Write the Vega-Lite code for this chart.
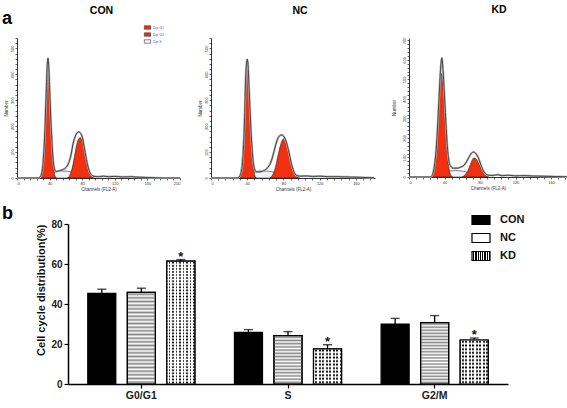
{
 "$schema": "https://vega.github.io/schema/vega-lite/v6.json",
 "padding": {"left": 2, "top": 5, "right": 0, "bottom": 0},
 "title": {"text": "a", "anchor": "start", "fontSize": 18, "fontWeight": "bold", "baseline": "alphabetic", "offset": -37, "color": "#000"},
 "config": {
  "font": "Liberation Sans",
  "view": {"stroke": null},
  "axis": {"labelFontSize": 4, "titleFontSize": 4.5, "tickSize": 2, "labelPadding": 1, "titlePadding": 1.5, "grid": false, "domainColor": "#000", "tickColor": "#000", "labelColor": "#333", "titleColor": "#333", "titleFontWeight": "normal", "domainWidth": 0.8, "tickWidth": 0.6},
  "title": {"color": "#000"}
 },
 "datasets": {
  "con": [
   {"comp": "Dip S", "x": 34, "y": 0}, {"comp": "Dip S", "x": 40, "y": 12}, {"comp": "Dip S", "x": 46, "y": 22}, {"comp": "Dip S", "x": 54, "y": 27}, {"comp": "Dip S", "x": 62, "y": 26}, {"comp": "Dip S", "x": 70, "y": 20}, {"comp": "Dip S", "x": 78, "y": 11}, {"comp": "Dip S", "x": 86, "y": 0},
   {"comp": "Dip G1", "x": 28, "y": 0}, {"comp": "Dip G1", "x": 30, "y": 12}, {"comp": "Dip G1", "x": 32, "y": 55}, {"comp": "Dip G1", "x": 34, "y": 160}, {"comp": "Dip G1", "x": 36, "y": 330}, {"comp": "Dip G1", "x": 37, "y": 410}, {"comp": "Dip G1", "x": 38, "y": 446}, {"comp": "Dip G1", "x": 39, "y": 410}, {"comp": "Dip G1", "x": 40, "y": 330}, {"comp": "Dip G1", "x": 42, "y": 180}, {"comp": "Dip G1", "x": 44, "y": 70}, {"comp": "Dip G1", "x": 46, "y": 15}, {"comp": "Dip G1", "x": 48, "y": 0},
   {"comp": "Dip G2", "x": 62, "y": 0}, {"comp": "Dip G2", "x": 65, "y": 12}, {"comp": "Dip G2", "x": 68, "y": 42}, {"comp": "Dip G2", "x": 71, "y": 92}, {"comp": "Dip G2", "x": 74, "y": 138}, {"comp": "Dip G2", "x": 76, "y": 152}, {"comp": "Dip G2", "x": 78, "y": 155}, {"comp": "Dip G2", "x": 80, "y": 142}, {"comp": "Dip G2", "x": 83, "y": 98}, {"comp": "Dip G2", "x": 86, "y": 50}, {"comp": "Dip G2", "x": 89, "y": 18}, {"comp": "Dip G2", "x": 92, "y": 4}, {"comp": "Dip G2", "x": 95, "y": 0},
   {"comp": "Total", "x": 0, "y": 0}, {"comp": "Total", "x": 26, "y": 0}, {"comp": "Total", "x": 28, "y": 3}, {"comp": "Total", "x": 30, "y": 15}, {"comp": "Total", "x": 32, "y": 60}, {"comp": "Total", "x": 34, "y": 170}, {"comp": "Total", "x": 36, "y": 345}, {"comp": "Total", "x": 37, "y": 430}, {"comp": "Total", "x": 38, "y": 462}, {"comp": "Total", "x": 39, "y": 430}, {"comp": "Total", "x": 40, "y": 350}, {"comp": "Total", "x": 42, "y": 195}, {"comp": "Total", "x": 44, "y": 85}, {"comp": "Total", "x": 46, "y": 35}, {"comp": "Total", "x": 48, "y": 25}, {"comp": "Total", "x": 52, "y": 28}, {"comp": "Total", "x": 56, "y": 32}, {"comp": "Total", "x": 60, "y": 40}, {"comp": "Total", "x": 63, "y": 55}, {"comp": "Total", "x": 66, "y": 85}, {"comp": "Total", "x": 69, "y": 135}, {"comp": "Total", "x": 72, "y": 165}, {"comp": "Total", "x": 74, "y": 175}, {"comp": "Total", "x": 76, "y": 178}, {"comp": "Total", "x": 78, "y": 172}, {"comp": "Total", "x": 80, "y": 160}, {"comp": "Total", "x": 83, "y": 110}, {"comp": "Total", "x": 86, "y": 60}, {"comp": "Total", "x": 89, "y": 25}, {"comp": "Total", "x": 92, "y": 10}, {"comp": "Total", "x": 95, "y": 6}, {"comp": "Total", "x": 100, "y": 5}, {"comp": "Total", "x": 106, "y": 7}, {"comp": "Total", "x": 112, "y": 5}, {"comp": "Total", "x": 120, "y": 6}, {"comp": "Total", "x": 130, "y": 4}, {"comp": "Total", "x": 140, "y": 5}, {"comp": "Total", "x": 150, "y": 3}, {"comp": "Total", "x": 160, "y": 2}, {"comp": "Total", "x": 170, "y": 1}, {"comp": "Total", "x": 180, "y": 0}, {"comp": "Total", "x": 200, "y": 0}
  ],
  "nc": [
   {"comp": "Dip S", "x": 36, "y": 0}, {"comp": "Dip S", "x": 42, "y": 12}, {"comp": "Dip S", "x": 48, "y": 22}, {"comp": "Dip S", "x": 56, "y": 27}, {"comp": "Dip S", "x": 64, "y": 26}, {"comp": "Dip S", "x": 72, "y": 20}, {"comp": "Dip S", "x": 80, "y": 11}, {"comp": "Dip S", "x": 88, "y": 0},
   {"comp": "Dip G1", "x": 30, "y": 0}, {"comp": "Dip G1", "x": 32, "y": 12}, {"comp": "Dip G1", "x": 34, "y": 55}, {"comp": "Dip G1", "x": 36, "y": 160}, {"comp": "Dip G1", "x": 38, "y": 340}, {"comp": "Dip G1", "x": 39, "y": 420}, {"comp": "Dip G1", "x": 40, "y": 446}, {"comp": "Dip G1", "x": 41, "y": 415}, {"comp": "Dip G1", "x": 42, "y": 340}, {"comp": "Dip G1", "x": 44, "y": 185}, {"comp": "Dip G1", "x": 46, "y": 72}, {"comp": "Dip G1", "x": 48, "y": 15}, {"comp": "Dip G1", "x": 50, "y": 0},
   {"comp": "Dip G2", "x": 65, "y": 0}, {"comp": "Dip G2", "x": 68, "y": 12}, {"comp": "Dip G2", "x": 71, "y": 40}, {"comp": "Dip G2", "x": 74, "y": 88}, {"comp": "Dip G2", "x": 77, "y": 130}, {"comp": "Dip G2", "x": 79, "y": 148}, {"comp": "Dip G2", "x": 81, "y": 152}, {"comp": "Dip G2", "x": 83, "y": 140}, {"comp": "Dip G2", "x": 86, "y": 98}, {"comp": "Dip G2", "x": 89, "y": 50}, {"comp": "Dip G2", "x": 92, "y": 18}, {"comp": "Dip G2", "x": 95, "y": 4}, {"comp": "Dip G2", "x": 98, "y": 0},
   {"comp": "Total", "x": 0, "y": 0}, {"comp": "Total", "x": 29, "y": 0}, {"comp": "Total", "x": 31, "y": 4}, {"comp": "Total", "x": 33, "y": 18}, {"comp": "Total", "x": 35, "y": 70}, {"comp": "Total", "x": 37, "y": 220}, {"comp": "Total", "x": 38, "y": 360}, {"comp": "Total", "x": 39, "y": 435}, {"comp": "Total", "x": 40, "y": 458}, {"comp": "Total", "x": 41, "y": 430}, {"comp": "Total", "x": 42, "y": 350}, {"comp": "Total", "x": 44, "y": 195}, {"comp": "Total", "x": 46, "y": 85}, {"comp": "Total", "x": 48, "y": 35}, {"comp": "Total", "x": 50, "y": 24}, {"comp": "Total", "x": 54, "y": 24}, {"comp": "Total", "x": 58, "y": 28}, {"comp": "Total", "x": 62, "y": 38}, {"comp": "Total", "x": 66, "y": 60}, {"comp": "Total", "x": 69, "y": 95}, {"comp": "Total", "x": 72, "y": 135}, {"comp": "Total", "x": 75, "y": 160}, {"comp": "Total", "x": 78, "y": 166}, {"comp": "Total", "x": 80, "y": 162}, {"comp": "Total", "x": 83, "y": 140}, {"comp": "Total", "x": 86, "y": 100}, {"comp": "Total", "x": 89, "y": 52}, {"comp": "Total", "x": 92, "y": 20}, {"comp": "Total", "x": 95, "y": 9}, {"comp": "Total", "x": 99, "y": 7}, {"comp": "Total", "x": 105, "y": 8}, {"comp": "Total", "x": 112, "y": 6}, {"comp": "Total", "x": 120, "y": 7}, {"comp": "Total", "x": 130, "y": 5}, {"comp": "Total", "x": 140, "y": 5}, {"comp": "Total", "x": 150, "y": 4}, {"comp": "Total", "x": 160, "y": 3}, {"comp": "Total", "x": 170, "y": 2}, {"comp": "Total", "x": 180, "y": 1}
  ],
  "kd": [
   {"comp": "Dip S", "x": 32, "y": 0}, {"comp": "Dip S", "x": 38, "y": 18}, {"comp": "Dip S", "x": 45, "y": 30}, {"comp": "Dip S", "x": 52, "y": 33}, {"comp": "Dip S", "x": 60, "y": 30}, {"comp": "Dip S", "x": 68, "y": 22}, {"comp": "Dip S", "x": 76, "y": 10}, {"comp": "Dip S", "x": 84, "y": 0},
   {"comp": "Dip G1", "x": 25, "y": 0}, {"comp": "Dip G1", "x": 27, "y": 15}, {"comp": "Dip G1", "x": 29, "y": 60}, {"comp": "Dip G1", "x": 31, "y": 160}, {"comp": "Dip G1", "x": 33, "y": 310}, {"comp": "Dip G1", "x": 35, "y": 470}, {"comp": "Dip G1", "x": 36, "y": 525}, {"comp": "Dip G1", "x": 37, "y": 533}, {"comp": "Dip G1", "x": 38, "y": 500}, {"comp": "Dip G1", "x": 39, "y": 430}, {"comp": "Dip G1", "x": 41, "y": 270}, {"comp": "Dip G1", "x": 43, "y": 130}, {"comp": "Dip G1", "x": 45, "y": 45}, {"comp": "Dip G1", "x": 47, "y": 10}, {"comp": "Dip G1", "x": 49, "y": 0},
   {"comp": "Dip G2", "x": 60, "y": 0}, {"comp": "Dip G2", "x": 63, "y": 10}, {"comp": "Dip G2", "x": 66, "y": 30}, {"comp": "Dip G2", "x": 69, "y": 62}, {"comp": "Dip G2", "x": 71, "y": 85}, {"comp": "Dip G2", "x": 73, "y": 97}, {"comp": "Dip G2", "x": 75, "y": 95}, {"comp": "Dip G2", "x": 78, "y": 75}, {"comp": "Dip G2", "x": 81, "y": 45}, {"comp": "Dip G2", "x": 84, "y": 20}, {"comp": "Dip G2", "x": 87, "y": 5}, {"comp": "Dip G2", "x": 90, "y": 0},
   {"comp": "Total", "x": 0, "y": 0}, {"comp": "Total", "x": 24, "y": 0}, {"comp": "Total", "x": 26, "y": 8}, {"comp": "Total", "x": 28, "y": 40}, {"comp": "Total", "x": 30, "y": 110}, {"comp": "Total", "x": 32, "y": 240}, {"comp": "Total", "x": 34, "y": 420}, {"comp": "Total", "x": 36, "y": 580}, {"comp": "Total", "x": 37, "y": 610}, {"comp": "Total", "x": 38, "y": 570}, {"comp": "Total", "x": 39, "y": 500}, {"comp": "Total", "x": 41, "y": 330}, {"comp": "Total", "x": 43, "y": 170}, {"comp": "Total", "x": 45, "y": 80}, {"comp": "Total", "x": 47, "y": 55}, {"comp": "Total", "x": 50, "y": 45}, {"comp": "Total", "x": 54, "y": 45}, {"comp": "Total", "x": 58, "y": 50}, {"comp": "Total", "x": 62, "y": 60}, {"comp": "Total", "x": 65, "y": 80}, {"comp": "Total", "x": 68, "y": 105}, {"comp": "Total", "x": 71, "y": 125}, {"comp": "Total", "x": 73, "y": 128}, {"comp": "Total", "x": 75, "y": 122}, {"comp": "Total", "x": 78, "y": 100}, {"comp": "Total", "x": 81, "y": 62}, {"comp": "Total", "x": 84, "y": 30}, {"comp": "Total", "x": 87, "y": 14}, {"comp": "Total", "x": 90, "y": 9}, {"comp": "Total", "x": 95, "y": 8}, {"comp": "Total", "x": 100, "y": 12}, {"comp": "Total", "x": 105, "y": 7}, {"comp": "Total", "x": 112, "y": 9}, {"comp": "Total", "x": 120, "y": 6}, {"comp": "Total", "x": 130, "y": 7}, {"comp": "Total", "x": 140, "y": 5}, {"comp": "Total", "x": 150, "y": 4}, {"comp": "Total", "x": 160, "y": 3}, {"comp": "Total", "x": 170, "y": 2}, {"comp": "Total", "x": 178, "y": 1}
  ],
  "bars": [
   {"phase": "G0/G1", "group": "CON", "value": 45.3, "err": 47.4},
   {"phase": "G0/G1", "group": "NC", "value": 45.8, "err": 47.9},
   {"phase": "G0/G1", "group": "KD", "value": 61.4, "err": 62.2, "star": "*"},
   {"phase": "S", "group": "CON", "value": 25.8, "err": 27.2},
   {"phase": "S", "group": "NC", "value": 24.2, "err": 26.2},
   {"phase": "S", "group": "KD", "value": 17.6, "err": 19.6, "star": "*"},
   {"phase": "G2/M", "group": "CON", "value": 30.0, "err": 32.8},
   {"phase": "G2/M", "group": "NC", "value": 30.7, "err": 34.2},
   {"phase": "G2/M", "group": "KD", "value": 22.0, "err": 23.0, "star": "*"}
  ]
 },
 "spacing": 14,
 "vconcat": [
  {
   "spacing": 12,
   "hconcat": [
    {
     "width": 163, "height": 140,
     "title": {"text": "CON", "frame": "group", "anchor": "middle", "fontSize": 10.5, "fontWeight": "bold", "offset": 21.5, "dx": 3},
     "data": {"name": "con"},
     "encoding": {
      "x": {"field": "x", "type": "quantitative", "scale": {"domain": [0, 200], "nice": false, "zero": false}, "axis": {"title": "Channels (FL2-A)", "values": [0,8,16,24,32,40,48,56,64,72,80,88,96,104,112,120,128,136,144,152,160,168,176,184,192,200], "labelExpr": "datum.value % 40 === 0 ? datum.label : ''"}},
      "y": {"field": "y", "type": "quantitative", "stack": null, "scale": {"domain": [0, 540], "nice": false}, "axis": {"title": "Number", "values": [0,20,40,60,80,100,120,140,160,180,200,220,240,260,280,300,320,340,360,380,400,420,440,460,480,500,520,540], "labelExpr": "datum.value % 100 === 0 ? datum.label : ''", "labelAngle": 270, "labelAlign": "center", "labelBaseline": "bottom"}}
     },
     "layer": [
      {"transform": [{"filter": "datum.comp === 'Dip S'"}], "mark": {"type": "area", "interpolate": "monotone", "stroke": "#333", "strokeWidth": 0.6},
       "encoding": {"color": {"field": "comp", "type": "nominal", "scale": {"domain": ["Dip G1", "Dip G2", "Dip S"], "range": ["#f0300e", "#f0300e", "#eef2fc"]}, "legend": {"orient": "none", "legendX": 127, "legendY": -14, "title": null, "labelFontSize": 3.5, "labelColor": "#3a5be0", "symbolType": "M-1,-0.55H1V0.55H-1Z", "symbolSize": 40, "symbolStrokeColor": "#444", "symbolStrokeWidth": 0.5, "rowPadding": -2, "labelOffset": 2, "symbolOpacity": 1}}}},
      {"transform": [{"filter": "datum.comp === 'Dip G1' || datum.comp === 'Dip G2'"}], "mark": {"type": "area", "interpolate": "monotone", "stroke": "#222", "strokeWidth": 0.6},
       "encoding": {"color": {"field": "comp", "type": "nominal", "scale": {"domain": ["Dip G1", "Dip G2", "Dip S"], "range": ["#f0300e", "#f0300e", "#eef2fc"]}}}},
      {"transform": [{"filter": "datum.comp === 'Total'"}], "mark": {"type": "line", "interpolate": "monotone", "color": "#b8b8b8", "strokeWidth": 2.2}, "encoding": {}},
      {"transform": [{"filter": "datum.comp === 'Total'"}], "mark": {"type": "line", "interpolate": "monotone", "color": "#111", "strokeWidth": 0.7}, "encoding": {}}
     ]
    },
    {
     "width": 164, "height": 140,
     "title": {"text": "NC", "frame": "group", "anchor": "middle", "fontSize": 10.5, "fontWeight": "bold", "offset": 21.5, "dx": 7},
     "data": {"name": "nc"},
     "encoding": {
      "x": {"field": "x", "type": "quantitative", "scale": {"domain": [0, 181], "nice": false, "zero": false}, "axis": {"title": "Channels (FL2-A)", "values": [0,8,16,24,32,40,48,56,64,72,80,88,96,104,112,120,128,136,144,152,160,168,176], "labelExpr": "datum.value % 40 === 0 ? datum.label : ''"}},
      "y": {"field": "y", "type": "quantitative", "stack": null, "scale": {"domain": [0, 540], "nice": false}, "axis": {"title": "Number", "values": [0,20,40,60,80,100,120,140,160,180,200,220,240,260,280,300,320,340,360,380,400,420,440,460,480,500,520,540], "labelExpr": "datum.value % 100 === 0 ? datum.label : ''", "labelAngle": 270, "labelAlign": "center", "labelBaseline": "bottom"}}
     },
     "layer": [
      {"transform": [{"filter": "datum.comp === 'Dip S'"}], "mark": {"type": "area", "interpolate": "monotone", "stroke": "#333", "strokeWidth": 0.6},
       "encoding": {"color": {"field": "comp", "type": "nominal", "scale": {"domain": ["Dip G1", "Dip G2", "Dip S"], "range": ["#f0300e", "#f0300e", "#eef2fc"]}, "legend": {"orient": "none", "legendX": 130, "legendY": -13, "title": null, "labelFontSize": 3.5, "labelColor": "#3a5be0", "symbolType": "M-1,-0.55H1V0.55H-1Z", "symbolSize": 40, "symbolStrokeColor": "#444", "symbolStrokeWidth": 0.5, "rowPadding": -2, "labelOffset": 2, "symbolOpacity": 1}}}},
      {"transform": [{"filter": "datum.comp === 'Dip G1' || datum.comp === 'Dip G2'"}], "mark": {"type": "area", "interpolate": "monotone", "stroke": "#222", "strokeWidth": 0.6},
       "encoding": {"color": {"field": "comp", "type": "nominal", "scale": {"domain": ["Dip G1", "Dip G2", "Dip S"], "range": ["#f0300e", "#f0300e", "#eef2fc"]}}}},
      {"transform": [{"filter": "datum.comp === 'Total'"}], "mark": {"type": "line", "interpolate": "monotone", "color": "#b8b8b8", "strokeWidth": 2.2}, "encoding": {}},
      {"transform": [{"filter": "datum.comp === 'Total'"}], "mark": {"type": "line", "interpolate": "monotone", "color": "#111", "strokeWidth": 0.7}, "encoding": {}}
     ]
    },
    {
     "width": 158, "height": 139,
     "title": {"text": "KD", "frame": "group", "anchor": "middle", "fontSize": 10.5, "fontWeight": "bold", "offset": 21.5, "dx": 11},
     "data": {"name": "kd"},
     "encoding": {
      "x": {"field": "x", "type": "quantitative", "scale": {"domain": [0, 178], "nice": false, "zero": false}, "axis": {"title": "Channels (FL2-A)", "values": [0,8,16,24,32,40,48,56,64,72,80,88,96,104,112,120,128,136,144,152,160,168,176], "labelExpr": "datum.value % 40 === 0 ? datum.label : ''"}},
      "y": {"field": "y", "type": "quantitative", "stack": null, "scale": {"domain": [0, 712], "nice": false}, "axis": {"title": "Number", "titlePadding": 6, "values": [0,20,40,60,80,100,120,140,160,180,200,220,240,260,280,300,320,340,360,380,400,420,440,460,480,500,520,540,560,580,600,620,640,660,680,700], "labelExpr": "datum.value % 100 === 0 ? datum.label : ''", "labelAngle": 270, "labelAlign": "center", "labelBaseline": "bottom"}}
     },
     "layer": [
      {"transform": [{"filter": "datum.comp === 'Dip S'"}], "mark": {"type": "area", "interpolate": "monotone", "stroke": "#333", "strokeWidth": 0.6},
       "encoding": {"color": {"field": "comp", "type": "nominal", "scale": {"domain": ["Dip G1", "Dip G2", "Dip S"], "range": ["#f0300e", "#f0300e", "#eef2fc"]}, "legend": {"orient": "none", "legendX": 126, "legendY": -11, "title": null, "labelFontSize": 3.5, "labelColor": "#3a5be0", "symbolType": "M-1,-0.55H1V0.55H-1Z", "symbolSize": 40, "symbolStrokeColor": "#444", "symbolStrokeWidth": 0.5, "rowPadding": -2, "labelOffset": 2, "symbolOpacity": 1}}}},
      {"transform": [{"filter": "datum.comp === 'Dip G1' || datum.comp === 'Dip G2'"}], "mark": {"type": "area", "interpolate": "monotone", "stroke": "#222", "strokeWidth": 0.6},
       "encoding": {"color": {"field": "comp", "type": "nominal", "scale": {"domain": ["Dip G1", "Dip G2", "Dip S"], "range": ["#f0300e", "#f0300e", "#eef2fc"]}}}},
      {"transform": [{"filter": "datum.comp === 'Total'"}], "mark": {"type": "line", "interpolate": "monotone", "color": "#b8b8b8", "strokeWidth": 2.2}, "encoding": {}},
      {"transform": [{"filter": "datum.comp === 'Total'"}], "mark": {"type": "line", "interpolate": "monotone", "color": "#111", "strokeWidth": 0.7}, "encoding": {}}
     ]
    }
   ]
  },
  {
   "spacing": 17,
   "title": {"text": "b", "anchor": "start", "frame": "bounds", "fontSize": 18, "fontWeight": "bold", "offset": -13, "dx": -15},
   "hconcat": [
    {"width": 1, "height": 1, "data": {"values": []}, "mark": {"type": "point", "opacity": 0}, "encoding": {}},
    {
     "width": 440, "height": 160,
     "data": {"name": "bars"},
     "encoding": {
      "x": {"field": "phase", "type": "nominal", "sort": ["G0/G1", "S", "G2/M"], "scale": {"paddingInner": 0, "paddingOuter": 0}, "axis": {"title": null, "labelAngle": 0, "labelFontSize": 10.5, "labelFontWeight": "bold", "labelColor": "#222", "tickSize": 4, "tickWidth": 1.2, "domainWidth": 1.5, "labelPadding": 2}},
      "xOffset": {"field": "group", "type": "nominal", "sort": ["CON", "NC", "KD"], "scale": {"paddingInner": 0.29, "paddingOuter": 0.5}},
      "y": {"field": "value", "type": "quantitative", "scale": {"domain": [0, 80], "nice": false}, "axis": {"title": "Cell cycle distribution(%)", "titleAnchor": "end", "titleFontSize": 11, "titleFontWeight": "bold", "titleColor": "#111", "titlePadding": 4, "values": [0, 20, 40, 60, 80], "labelFontSize": 10, "labelFontWeight": "bold", "labelColor": "#222", "tickSize": 4, "tickWidth": 1.2, "domainWidth": 1.5, "labelPadding": 2}}
     },
     "layer": [
      {"mark": {"type": "bar", "stroke": "#000", "strokeWidth": 1.2},
       "encoding": {"fill": {"field": "group", "type": "nominal", "scale": {"domain": ["CON", "NC", "KD"], "range": ["#000000", "#ffffff", {"expr": "{gradient: 'linear', x1: 0, y1: 0, x2: 1, y2: 0, stops: [{offset: 0, color: '#fff'}, {offset: 0.0625, color: '#fff'}, {offset: 0.0625, color: '#000'}, {offset: 0.125, color: '#000'}, {offset: 0.125, color: '#fff'}, {offset: 0.1875, color: '#fff'}, {offset: 0.1875, color: '#000'}, {offset: 0.25, color: '#000'}, {offset: 0.25, color: '#fff'}, {offset: 0.3125, color: '#fff'}, {offset: 0.3125, color: '#000'}, {offset: 0.375, color: '#000'}, {offset: 0.375, color: '#fff'}, {offset: 0.4375, color: '#fff'}, {offset: 0.4375, color: '#000'}, {offset: 0.5, color: '#000'}, {offset: 0.5, color: '#fff'}, {offset: 0.5625, color: '#fff'}, {offset: 0.5625, color: '#000'}, {offset: 0.625, color: '#000'}, {offset: 0.625, color: '#fff'}, {offset: 0.6875, color: '#fff'}, {offset: 0.6875, color: '#000'}, {offset: 0.75, color: '#000'}, {offset: 0.75, color: '#fff'}, {offset: 0.8125, color: '#fff'}, {offset: 0.8125, color: '#000'}, {offset: 0.875, color: '#000'}, {offset: 0.875, color: '#fff'}, {offset: 0.9375, color: '#fff'}, {offset: 0.9375, color: '#000'}, {offset: 1, color: '#000'}]}"}]},
        "legend": {"orient": "none", "legendX": 403, "legendY": -14, "title": null, "symbolType": "M-1,-0.5H1V0.5H-1Z", "symbolSize": 324, "symbolStrokeColor": "#000", "symbolStrokeWidth": 1.2, "labelFontSize": 11, "labelFontWeight": "bold", "labelColor": "#111", "labelOffset": 9, "rowPadding": 1, "symbolOpacity": 1}}}},
      {"transform": [{"filter": "datum.group === 'NC'"}], "mark": {"type": "bar", "stroke": "#000", "strokeWidth": 1.2},
       "encoding": {"fill": {"condition": [
        {"test": "datum.phase === 'G0/G1'", "value": {"gradient": "linear", "x1": 0, "y1": 0, "x2": 0, "y2": 1, "stops": [{"offset":0,"color":"rgba(136,136,136,0)"},{"offset":0.02,"color":"#888"},{"offset":0.04,"color":"rgba(136,136,136,0)"},{"offset":0.06,"color":"#888"},{"offset":0.08,"color":"rgba(136,136,136,0)"},{"offset":0.1,"color":"#888"},{"offset":0.12,"color":"rgba(136,136,136,0)"},{"offset":0.14,"color":"#888"},{"offset":0.16,"color":"rgba(136,136,136,0)"},{"offset":0.18,"color":"#888"},{"offset":0.2,"color":"rgba(136,136,136,0)"},{"offset":0.22,"color":"#888"},{"offset":0.24,"color":"rgba(136,136,136,0)"},{"offset":0.26,"color":"#888"},{"offset":0.28,"color":"rgba(136,136,136,0)"},{"offset":0.3,"color":"#888"},{"offset":0.32,"color":"rgba(136,136,136,0)"},{"offset":0.34,"color":"#888"},{"offset":0.36,"color":"rgba(136,136,136,0)"},{"offset":0.38,"color":"#888"},{"offset":0.4,"color":"rgba(136,136,136,0)"},{"offset":0.42,"color":"#888"},{"offset":0.44,"color":"rgba(136,136,136,0)"},{"offset":0.46,"color":"#888"},{"offset":0.48,"color":"rgba(136,136,136,0)"},{"offset":0.5,"color":"#888"},{"offset":0.52,"color":"rgba(136,136,136,0)"},{"offset":0.54,"color":"#888"},{"offset":0.56,"color":"rgba(136,136,136,0)"},{"offset":0.58,"color":"#888"},{"offset":0.6,"color":"rgba(136,136,136,0)"},{"offset":0.62,"color":"#888"},{"offset":0.64,"color":"rgba(136,136,136,0)"},{"offset":0.66,"color":"#888"},{"offset":0.68,"color":"rgba(136,136,136,0)"},{"offset":0.7,"color":"#888"},{"offset":0.72,"color":"rgba(136,136,136,0)"},{"offset":0.74,"color":"#888"},{"offset":0.76,"color":"rgba(136,136,136,0)"},{"offset":0.78,"color":"#888"},{"offset":0.8,"color":"rgba(136,136,136,0)"},{"offset":0.82,"color":"#888"},{"offset":0.84,"color":"rgba(136,136,136,0)"},{"offset":0.86,"color":"#888"},{"offset":0.88,"color":"rgba(136,136,136,0)"},{"offset":0.9,"color":"#888"},{"offset":0.92,"color":"rgba(136,136,136,0)"},{"offset":0.94,"color":"#888"},{"offset":0.96,"color":"rgba(136,136,136,0)"},{"offset":0.98,"color":"#888"},{"offset":1,"color":"rgba(136,136,136,0)"}]}},
        {"test": "datum.phase === 'S'", "value": {"gradient": "linear", "x1": 0, "y1": 0, "x2": 0, "y2": 1, "stops": [{"offset":0,"color":"rgba(136,136,136,0)"},{"offset":0.0333,"color":"#888"},{"offset":0.0667,"color":"rgba(136,136,136,0)"},{"offset":0.1,"color":"#888"},{"offset":0.1333,"color":"rgba(136,136,136,0)"},{"offset":0.1667,"color":"#888"},{"offset":0.2,"color":"rgba(136,136,136,0)"},{"offset":0.2333,"color":"#888"},{"offset":0.2667,"color":"rgba(136,136,136,0)"},{"offset":0.3,"color":"#888"},{"offset":0.3333,"color":"rgba(136,136,136,0)"},{"offset":0.3667,"color":"#888"},{"offset":0.4,"color":"rgba(136,136,136,0)"},{"offset":0.4333,"color":"#888"},{"offset":0.4667,"color":"rgba(136,136,136,0)"},{"offset":0.5,"color":"#888"},{"offset":0.5333,"color":"rgba(136,136,136,0)"},{"offset":0.5667,"color":"#888"},{"offset":0.6,"color":"rgba(136,136,136,0)"},{"offset":0.6333,"color":"#888"},{"offset":0.6667,"color":"rgba(136,136,136,0)"},{"offset":0.7,"color":"#888"},{"offset":0.7333,"color":"rgba(136,136,136,0)"},{"offset":0.7667,"color":"#888"},{"offset":0.8,"color":"rgba(136,136,136,0)"},{"offset":0.8333,"color":"#888"},{"offset":0.8667,"color":"rgba(136,136,136,0)"},{"offset":0.9,"color":"#888"},{"offset":0.9333,"color":"rgba(136,136,136,0)"},{"offset":0.9667,"color":"#888"},{"offset":1,"color":"rgba(136,136,136,0)"}]}}],
        "value": {"gradient": "linear", "x1": 0, "y1": 0, "x2": 0, "y2": 1, "stops": [{"offset":0,"color":"rgba(136,136,136,0)"},{"offset":0.025,"color":"#888"},{"offset":0.05,"color":"rgba(136,136,136,0)"},{"offset":0.075,"color":"#888"},{"offset":0.1,"color":"rgba(136,136,136,0)"},{"offset":0.125,"color":"#888"},{"offset":0.15,"color":"rgba(136,136,136,0)"},{"offset":0.175,"color":"#888"},{"offset":0.2,"color":"rgba(136,136,136,0)"},{"offset":0.225,"color":"#888"},{"offset":0.25,"color":"rgba(136,136,136,0)"},{"offset":0.275,"color":"#888"},{"offset":0.3,"color":"rgba(136,136,136,0)"},{"offset":0.325,"color":"#888"},{"offset":0.35,"color":"rgba(136,136,136,0)"},{"offset":0.375,"color":"#888"},{"offset":0.4,"color":"rgba(136,136,136,0)"},{"offset":0.425,"color":"#888"},{"offset":0.45,"color":"rgba(136,136,136,0)"},{"offset":0.475,"color":"#888"},{"offset":0.5,"color":"rgba(136,136,136,0)"},{"offset":0.525,"color":"#888"},{"offset":0.55,"color":"rgba(136,136,136,0)"},{"offset":0.575,"color":"#888"},{"offset":0.6,"color":"rgba(136,136,136,0)"},{"offset":0.625,"color":"#888"},{"offset":0.65,"color":"rgba(136,136,136,0)"},{"offset":0.675,"color":"#888"},{"offset":0.7,"color":"rgba(136,136,136,0)"},{"offset":0.725,"color":"#888"},{"offset":0.75,"color":"rgba(136,136,136,0)"},{"offset":0.775,"color":"#888"},{"offset":0.8,"color":"rgba(136,136,136,0)"},{"offset":0.825,"color":"#888"},{"offset":0.85,"color":"rgba(136,136,136,0)"},{"offset":0.875,"color":"#888"},{"offset":0.9,"color":"rgba(136,136,136,0)"},{"offset":0.925,"color":"#888"},{"offset":0.95,"color":"rgba(136,136,136,0)"},{"offset":0.975,"color":"#888"},{"offset":1,"color":"rgba(136,136,136,0)"}]}}}},
      {"transform": [{"filter": "datum.group === 'KD'"}], "mark": {"type": "bar", "stroke": "#000", "strokeWidth": 1.2},
       "encoding": {"fill": {"condition": [
        {"test": "datum.phase === 'G0/G1'", "value": {"gradient": "linear", "x1": 0, "y1": 0, "x2": 0, "y2": 1, "stops": [{"offset":0,"color":"#fff"},{"offset":0.0125,"color":"rgba(255,255,255,0)"},{"offset":0.025,"color":"#fff"},{"offset":0.0375,"color":"rgba(255,255,255,0)"},{"offset":0.05,"color":"#fff"},{"offset":0.0625,"color":"rgba(255,255,255,0)"},{"offset":0.075,"color":"#fff"},{"offset":0.0875,"color":"rgba(255,255,255,0)"},{"offset":0.1,"color":"#fff"},{"offset":0.1125,"color":"rgba(255,255,255,0)"},{"offset":0.125,"color":"#fff"},{"offset":0.1375,"color":"rgba(255,255,255,0)"},{"offset":0.15,"color":"#fff"},{"offset":0.1625,"color":"rgba(255,255,255,0)"},{"offset":0.175,"color":"#fff"},{"offset":0.1875,"color":"rgba(255,255,255,0)"},{"offset":0.2,"color":"#fff"},{"offset":0.2125,"color":"rgba(255,255,255,0)"},{"offset":0.225,"color":"#fff"},{"offset":0.2375,"color":"rgba(255,255,255,0)"},{"offset":0.25,"color":"#fff"},{"offset":0.2625,"color":"rgba(255,255,255,0)"},{"offset":0.275,"color":"#fff"},{"offset":0.2875,"color":"rgba(255,255,255,0)"},{"offset":0.3,"color":"#fff"},{"offset":0.3125,"color":"rgba(255,255,255,0)"},{"offset":0.325,"color":"#fff"},{"offset":0.3375,"color":"rgba(255,255,255,0)"},{"offset":0.35,"color":"#fff"},{"offset":0.3625,"color":"rgba(255,255,255,0)"},{"offset":0.375,"color":"#fff"},{"offset":0.3875,"color":"rgba(255,255,255,0)"},{"offset":0.4,"color":"#fff"},{"offset":0.4125,"color":"rgba(255,255,255,0)"},{"offset":0.425,"color":"#fff"},{"offset":0.4375,"color":"rgba(255,255,255,0)"},{"offset":0.45,"color":"#fff"},{"offset":0.4625,"color":"rgba(255,255,255,0)"},{"offset":0.475,"color":"#fff"},{"offset":0.4875,"color":"rgba(255,255,255,0)"},{"offset":0.5,"color":"#fff"},{"offset":0.5125,"color":"rgba(255,255,255,0)"},{"offset":0.525,"color":"#fff"},{"offset":0.5375,"color":"rgba(255,255,255,0)"},{"offset":0.55,"color":"#fff"},{"offset":0.5625,"color":"rgba(255,255,255,0)"},{"offset":0.575,"color":"#fff"},{"offset":0.5875,"color":"rgba(255,255,255,0)"},{"offset":0.6,"color":"#fff"},{"offset":0.6125,"color":"rgba(255,255,255,0)"},{"offset":0.625,"color":"#fff"},{"offset":0.6375,"color":"rgba(255,255,255,0)"},{"offset":0.65,"color":"#fff"},{"offset":0.6625,"color":"rgba(255,255,255,0)"},{"offset":0.675,"color":"#fff"},{"offset":0.6875,"color":"rgba(255,255,255,0)"},{"offset":0.7,"color":"#fff"},{"offset":0.7125,"color":"rgba(255,255,255,0)"},{"offset":0.725,"color":"#fff"},{"offset":0.7375,"color":"rgba(255,255,255,0)"},{"offset":0.75,"color":"#fff"},{"offset":0.7625,"color":"rgba(255,255,255,0)"},{"offset":0.775,"color":"#fff"},{"offset":0.7875,"color":"rgba(255,255,255,0)"},{"offset":0.8,"color":"#fff"},{"offset":0.8125,"color":"rgba(255,255,255,0)"},{"offset":0.825,"color":"#fff"},{"offset":0.8375,"color":"rgba(255,255,255,0)"},{"offset":0.85,"color":"#fff"},{"offset":0.8625,"color":"rgba(255,255,255,0)"},{"offset":0.875,"color":"#fff"},{"offset":0.8875,"color":"rgba(255,255,255,0)"},{"offset":0.9,"color":"#fff"},{"offset":0.9125,"color":"rgba(255,255,255,0)"},{"offset":0.925,"color":"#fff"},{"offset":0.9375,"color":"rgba(255,255,255,0)"},{"offset":0.95,"color":"#fff"},{"offset":0.9625,"color":"rgba(255,255,255,0)"},{"offset":0.975,"color":"#fff"},{"offset":0.9875,"color":"rgba(255,255,255,0)"},{"offset":1,"color":"#fff"}]}},
        {"test": "datum.phase === 'S'", "value": {"gradient": "linear", "x1": 0, "y1": 0, "x2": 0, "y2": 1, "stops": [{"offset":0,"color":"#fff"},{"offset":0.05,"color":"rgba(255,255,255,0)"},{"offset":0.1,"color":"#fff"},{"offset":0.15,"color":"rgba(255,255,255,0)"},{"offset":0.2,"color":"#fff"},{"offset":0.25,"color":"rgba(255,255,255,0)"},{"offset":0.3,"color":"#fff"},{"offset":0.35,"color":"rgba(255,255,255,0)"},{"offset":0.4,"color":"#fff"},{"offset":0.45,"color":"rgba(255,255,255,0)"},{"offset":0.5,"color":"#fff"},{"offset":0.55,"color":"rgba(255,255,255,0)"},{"offset":0.6,"color":"#fff"},{"offset":0.65,"color":"rgba(255,255,255,0)"},{"offset":0.7,"color":"#fff"},{"offset":0.75,"color":"rgba(255,255,255,0)"},{"offset":0.8,"color":"#fff"},{"offset":0.85,"color":"rgba(255,255,255,0)"},{"offset":0.9,"color":"#fff"},{"offset":0.95,"color":"rgba(255,255,255,0)"},{"offset":1,"color":"#fff"}]}}],
        "value": {"gradient": "linear", "x1": 0, "y1": 0, "x2": 0, "y2": 1, "stops": [{"offset":0,"color":"#fff"},{"offset":0.0417,"color":"rgba(255,255,255,0)"},{"offset":0.0833,"color":"#fff"},{"offset":0.125,"color":"rgba(255,255,255,0)"},{"offset":0.1667,"color":"#fff"},{"offset":0.2083,"color":"rgba(255,255,255,0)"},{"offset":0.25,"color":"#fff"},{"offset":0.2917,"color":"rgba(255,255,255,0)"},{"offset":0.3333,"color":"#fff"},{"offset":0.375,"color":"rgba(255,255,255,0)"},{"offset":0.4167,"color":"#fff"},{"offset":0.4583,"color":"rgba(255,255,255,0)"},{"offset":0.5,"color":"#fff"},{"offset":0.5417,"color":"rgba(255,255,255,0)"},{"offset":0.5833,"color":"#fff"},{"offset":0.625,"color":"rgba(255,255,255,0)"},{"offset":0.6667,"color":"#fff"},{"offset":0.7083,"color":"rgba(255,255,255,0)"},{"offset":0.75,"color":"#fff"},{"offset":0.7917,"color":"rgba(255,255,255,0)"},{"offset":0.8333,"color":"#fff"},{"offset":0.875,"color":"rgba(255,255,255,0)"},{"offset":0.9167,"color":"#fff"},{"offset":0.9583,"color":"rgba(255,255,255,0)"},{"offset":1,"color":"#fff"}]}}}},
      {"mark": {"type": "rule", "color": "#000", "strokeWidth": 1.3}, "encoding": {"y2": {"field": "err"}}},
      {"mark": {"type": "tick", "color": "#000", "thickness": 1.4, "size": 9}, "encoding": {"y": {"field": "err", "type": "quantitative"}}},
      {"transform": [{"filter": "datum.star === '*'"}], "mark": {"type": "text", "fontSize": 13, "fontWeight": "bold", "baseline": "alphabetic", "dy": 1, "color": "#111"}, "encoding": {"y": {"field": "err", "type": "quantitative"}, "text": {"field": "star"}}}
     ],
     "resolve": {"scale": {"fill": "independent"}}
    }
   ]
  }
 ]
}
